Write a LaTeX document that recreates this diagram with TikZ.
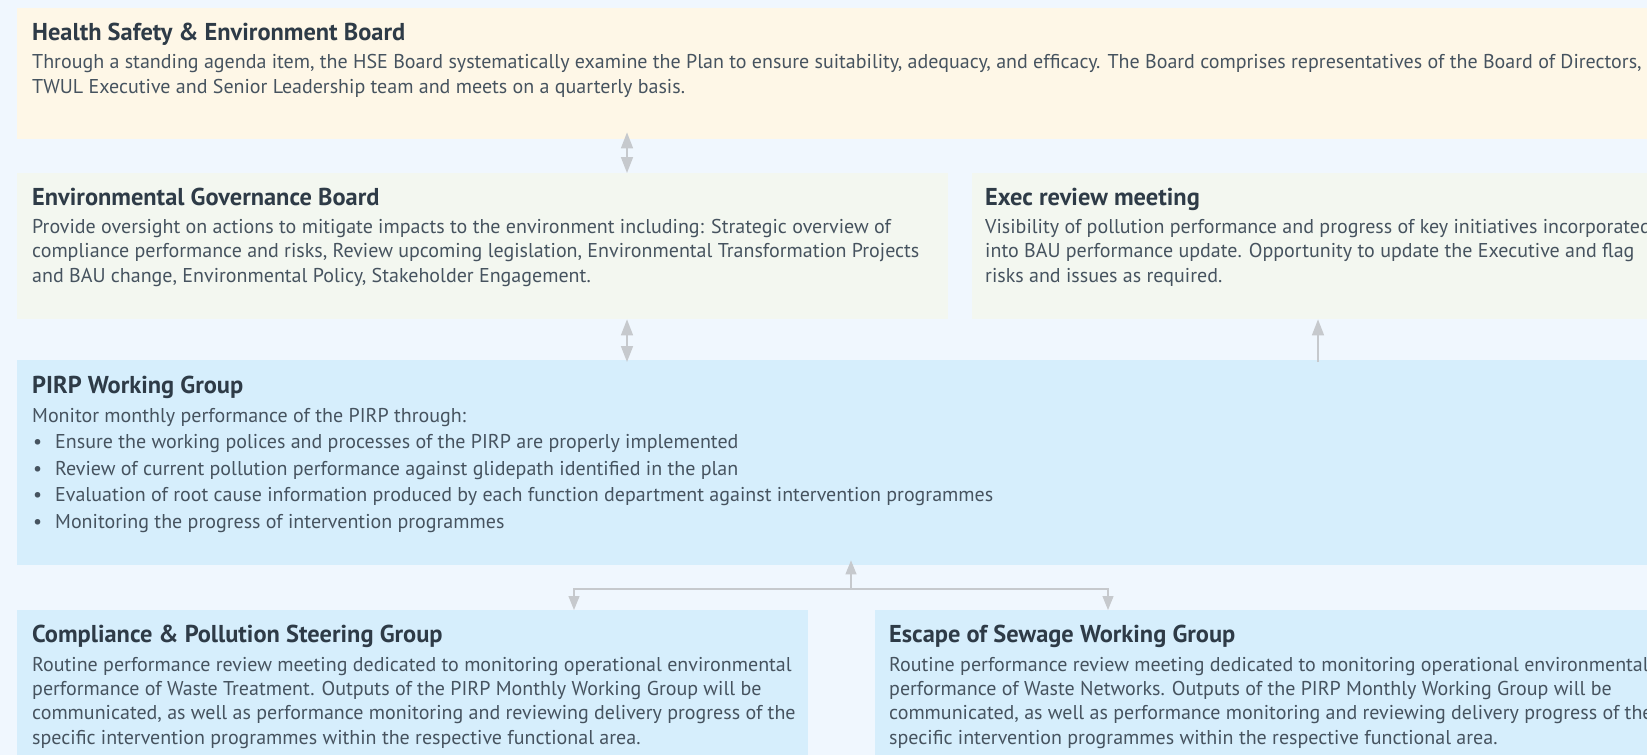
\documentclass[tikz,border=0pt]{standalone}
\usepackage{fontspec}
\setmainfont{PT Sans}
\usetikzlibrary{arrows.meta}

\definecolor{pagebg}{HTML}{F0F7FE}
\definecolor{hsefill}{HTML}{FEF7E7}
\definecolor{govfill}{HTML}{F3F7F0}
\definecolor{grpfill}{HTML}{D6EEFC}
\definecolor{linkgray}{HTML}{C6C9CD}
\definecolor{titlecol}{HTML}{2E3B47}
\definecolor{bodycol}{HTML}{46535F}

\newcommand\titlesize{\fontsize{24.4}{28}\selectfont\bfseries}
\newcommand\bodysize{\fontsize{20}{24.5}\selectfont}
\newcommand\listsize{\fontsize{20}{26.5}\selectfont}
\newcommand\groupsize{\fontsize{20}{24.3}\selectfont}
\newcommand\bul{\makebox[23pt][l]{\hspace{1pt}\textbullet}}

\begin{document}
\begin{tikzpicture}[x=1pt,y=-1pt,
  panel/.style={rectangle, fill=#1, draw=none, inner sep=0pt, anchor=north west},
  ttl/.style={anchor=base west, inner sep=0pt, font=\titlesize, text=titlecol},
  % body nodes are placed by the baseline of their last line
  bdy/.style={anchor=base west, inner sep=0pt, align=left, font=\bodysize, text=bodycol},
  link/.style={draw=linkgray, line width=1.6pt},
  fork/.style={draw=linkgray, line width=1.2pt},
  head/.style={-{Triangle[width=12pt,length=16pt]}},
  twohead/.style={{Triangle[width=12pt,length=16pt]}-{Triangle[width=12pt,length=16pt]}},
  smallhead/.style={-{Triangle[width=11pt,length=14pt]}}]
\useasboundingbox (0,0) rectangle (1647,755);
\clip (0,0) rectangle (1647,755);
\fill[pagebg] (0,0) rectangle (1647,755);

% panels
\node[panel=hsefill, minimum width=1700pt, minimum height=131pt] (hse) at (17,8) {};
\node[panel=govfill, minimum width=931pt, minimum height=146pt] (egb) at (17,173) {};
\node[panel=govfill, minimum width=730pt, minimum height=146pt] (exec) at (972,173) {};
\node[panel=grpfill, minimum width=1700pt, minimum height=205pt] (pirp) at (17,360) {};
\node[panel=grpfill, minimum width=791pt, minimum height=200pt] (cps) at (17,610) {};
\node[panel=grpfill, minimum width=830pt, minimum height=200pt] (esc) at (875,610) {};

% Health Safety & Environment Board
\node[ttl] (hse-t) at (32,40) {Health Safety \& Environment Board};
\node[bdy] (hse-b) at (32,93) {Through a standing agenda item, the HSE Board systematically examine the Plan to ensure suitability, adequacy, and efficacy. The Board comprises representatives of the Board of Directors,\\
TWUL Executive and Senior Leadership team and meets on a quarterly basis.};

% Environmental Governance Board
\node[ttl] (egb-t) at (32,205) {Environmental Governance Board};
\node[bdy] (egb-b) at (32,282) {Provide oversight on actions to mitigate impacts to the environment including: Strategic overview of\\
compliance performance and risks, Review upcoming legislation, Environmental Transformation Projects\\
and BAU change, Environmental Policy, Stakeholder Engagement.};

% Exec review meeting
\node[ttl] (exec-t) at (985,205) {Exec review meeting};
\node[bdy] (exec-b) at (985,282) {Visibility of pollution performance and progress of key initiatives incorporated\\
into BAU performance update. Opportunity to update the Executive and flag\\
risks and issues as required.};

% PIRP Working Group
\node[ttl] (pirp-t) at (32,393) {PIRP Working Group};
\node[bdy, font=\listsize] (pirp-b) at (32,528) {Monitor monthly performance of the PIRP through:\\
\bul Ensure the working polices and processes of the PIRP are properly implemented\\
\bul Review of current pollution performance against glidepath identified in the plan\\
\bul Evaluation of root cause information produced by each function department against intervention programmes\\
\bul Monitoring the progress of intervention programmes};

% Compliance & Pollution Steering Group
\node[ttl] (cps-t) at (32,642) {Compliance \& Pollution Steering Group};
\node[bdy, font=\groupsize] (cps-b) at (32,744) {Routine performance review meeting dedicated to monitoring operational environmental\\
performance of Waste Treatment. Outputs of the PIRP Monthly Working Group will be\\
communicated, as well as performance monitoring and reviewing delivery progress of the\\
specific intervention programmes within the respective functional area.};

% Escape of Sewage Working Group
\node[ttl] (esc-t) at (889,642) {Escape of Sewage Working Group};
\node[bdy, font=\groupsize] (esc-b) at (889,744) {Routine performance review meeting dedicated to monitoring operational environmental\\
performance of Waste Networks. Outputs of the PIRP Monthly Working Group will be\\
communicated, as well as performance monitoring and reviewing delivery progress of the\\
specific intervention programmes within the respective functional area.};

% connector positions
\coordinate (ax) at (627,0);
\coordinate (bx) at (1318,0);
\coordinate (split) at (851,589);
\coordinate (lx) at (574,0);
\coordinate (rx) at (1108,0);

% connectors
\draw[link, twohead, shorten >=-7pt] (egb.north -| ax) -- (hse.south -| ax);
\draw[link, twohead, shorten <=-2pt] (pirp.north -| ax) -- (egb.south -| ax);
\draw[link, head, shorten <=-2pt] (pirp.north -| bx) -- (exec.south -| bx);
\draw[fork, smallhead, shorten >=-5pt] (split) -- (pirp.south -| split);
\draw[fork, smallhead] (split) -| (cps.north -| lx);
\draw[fork, smallhead] (split) -| (esc.north -| rx);
\end{tikzpicture}
\end{document}
